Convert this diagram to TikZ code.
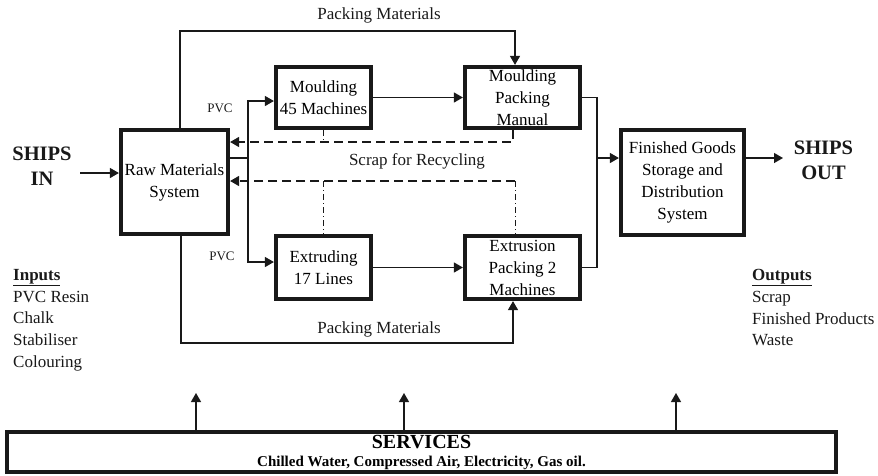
\documentclass[tikz,border=0pt]{standalone}
\usepackage{fontspec}
\setmainfont{Liberation Serif}
\usetikzlibrary{arrows.meta,positioning,calc}
\definecolor{inkc}{RGB}{25,25,25}

\tikzset{
  blk/.style={draw=inkc,line width=3.7pt,inner sep=0pt,align=center,
    font=\fontsize{17}{22}\selectfont},
  flow/.style={draw=inkc,line width=1.3pt,-{Triangle[length=9pt,width=10pt]}},
  link/.style={draw=inkc,line width=1.3pt},
  scrap/.style={draw=inkc,line width=1.4pt,dash pattern=on 9pt off 5pt},
  dashdot/.style={draw=inkc,line width=1pt,dash pattern=on 6pt off 3pt on 1pt off 3pt},
  lbl/.style={inner sep=0pt,text=inkc,font=\fontsize{17}{22}\selectfont},
  tag/.style={inner sep=0pt,text=inkc,font=\fontsize{13}{15}\selectfont},
  ships/.style={inner sep=0pt,text=inkc,align=center,font=\bfseries\fontsize{20.5}{25}\selectfont},
  listc/.style={inner sep=0pt,text=inkc,align=left,anchor=north west,
    font=\fontsize{17}{21.8}\selectfont}
}

\begin{document}
\begin{tikzpicture}[x=1pt,y=-1pt]
  \useasboundingbox (0,0) rectangle (878,475);

  % process boxes
  \node[blk,minimum width=107.5,minimum height=104.5] (raw) at (174.5,182) {Raw Materials\\System};
  \node[blk,minimum width=95.5,minimum height=61.5] (mould) at (323.5,97.5) {Moulding\\45 Machines};
  \node[blk,minimum width=95.5,minimum height=63.5] (extrude) at (323.5,267.5) {Extruding\\17 Lines};
  \node[blk,minimum width=115.5,minimum height=61.5] (mpack) at (522.5,97.5) {Moulding\\Packing\\Manual};
  \node[blk,minimum width=115.5,minimum height=63.5] (epack) at (522.5,267.5) {Extrusion\\Packing 2\\Machines};
  \node[blk,minimum width=123.5,minimum height=105.5] (goods) at (682.5,182.5)
    {Finished Goods\\Storage and\\Distribution\\System};
  \node[blk,minimum width=829.5,minimum height=40.5,font=\bfseries\fontsize{15}{18}\selectfont]
    (services) at (421.5,452) {{\fontsize{20}{18}\selectfont SERVICES}\\Chilled Water, Compressed Air, Electricity, Gas oil.};

  \node[ships] (shipsin) at (42,166) {SHIPS\\IN};
  \node[ships] (shipsout) at (823.5,160) {SHIPS\\OUT};

  % inputs / outputs lists
  \node[listc] (inputs) at (13,269) {\textbf{\underline{Inputs}}\\PVC Resin\\Chalk\\Stabiliser\\Colouring};
  \node[listc] (outputs) at (752,269) {\textbf{\underline{Outputs}}\\Scrap\\Finished Products\\Waste};

  % ships in / out
  \coordinate (inpt) at (80,173);
  \draw[flow] (inpt) -- (inpt -| raw.west);
  \coordinate (outpt) at (783,158);
  \draw[flow] (goods.east |- outpt) -- (outpt);

  % packing materials, top and bottom
  \coordinate (pktop) at (180,31);
  \coordinate (pktopr) at (515,31);
  \draw[flow] (raw.north -| pktop) -- (pktop) -- (pktopr) -- (pktopr |- mpack.north);
  \node[lbl] (pktoplbl) at (379,15) {Packing Materials};
  \coordinate (pkbot) at (181,343);
  \coordinate (pkbotr) at (513,343);
  \draw[flow] (raw.south -| pkbot) -- (pkbot) -- (pkbotr) -- (pkbotr |- epack.south);
  \node[lbl] (pkbotlbl) at (379,329) {Packing Materials};

  % PVC feed
  \coordinate (pvc) at (248,158);
  \draw[link] (raw.east |- pvc) -- (pvc);
  \draw[flow] (pvc) |- (mould.west |- 0,101);
  \draw[flow] (pvc) |- (extrude.west |- 0,262);
  \node[tag] (pvcup) at (220,108) {PVC};
  \node[tag] (pvcdn) at (222,256) {PVC};

  % lines to packing and to finished goods
  \draw[flow] (mould.east) -- (mpack.west);
  \draw[flow] (extrude.east) -- (epack.west);
  \coordinate (col) at (597,158);
  \draw[link] (mpack.east) -| (col);
  \draw[link] (epack.east) -| (col);
  \draw[flow] (col) -- (col -| goods.west);

  % scrap back to raw materials
  \coordinate (sc1) at (513,142);
  \coordinate (sc2) at (515,181);
  \draw[scrap,-{Triangle[length=9pt,width=10pt]}] (mpack.south -| sc1) -- (sc1) -- (sc1 -| raw.east);
  \draw[scrap,-{Triangle[length=9pt,width=10pt]}] (sc2) -- (sc2 -| raw.east);
  \draw[dashdot] (mould.south) -- (mould.south |- sc1);
  \draw[dashdot] (sc2 -| extrude.north) -- (extrude.north);
  \draw[dashdot] (sc2) -- (sc2 |- epack.north);
  \node[lbl] (scraplbl) at (417,161) {Scrap for Recycling};

  % services feeds
  \foreach \x in {196,404,676} {
    \coordinate (svtip) at (\x,393);
    \draw[flow] (services.north -| svtip) -- (svtip);
  }
\end{tikzpicture}
\end{document}
